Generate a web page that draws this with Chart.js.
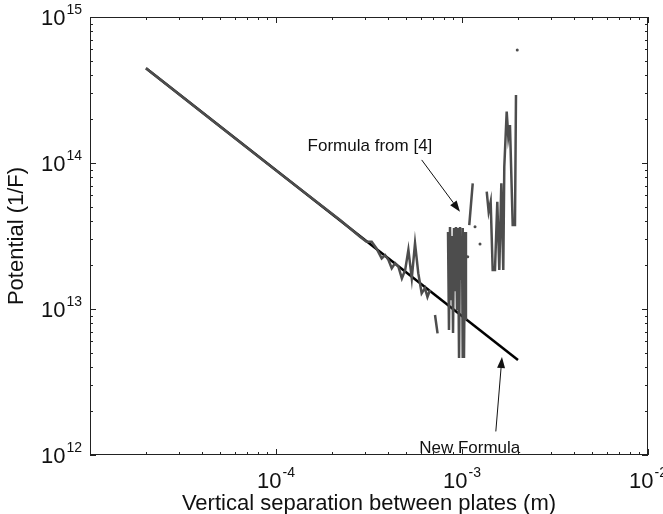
<!DOCTYPE html>
<html>
<head>
<meta charset="utf-8">
<script src="https://cdn.jsdelivr.net/npm/chart.js@4.4.0/dist/chart.umd.min.js"></script>
<style>
    html, body { margin: 0; padding: 0; background: #fff; }
    #wrap { width: 663px; height: 514px; position: relative; }
</style>
</head>
<body>
<div id="wrap"><canvas id="potentialChart"></canvas></div>
<script>
// Axis decades and their exponent labels
const xDecades = [1e-5, 1e-4, 1e-3, 1e-2];
const xTickLabels = ["", "-4", "-3", "-2"];
const yDecades = [1e12, 1e13, 1e14, 1e15];
const yTickLabels = ["12", "13", "14", "15"];

// "New Formula" (black straight line)
const newX = [2.0e-5, 2.0e-3];
const newY = [4.45e14, 4.47e12];

// "Formula from [4]" (grey, null = break in the line)
const oldX = [
    2.0e-5, 5.0e-5, 1.0e-4, 2.21e-4, 2.83e-4, 3.07e-4, 3.27e-4, 3.47e-4, 3.70e-4, 3.86e-4,
    4.02e-4, 4.19e-4, 4.37e-4, 4.55e-4, 4.75e-4, 4.95e-4, 5.15e-4, 5.37e-4, 5.59e-4, 5.82e-4,
    6.07e-4, 6.32e-4, 6.52e-4, 6.73e-4, null,
    7.16e-4, 7.39e-4, null,
    8.41e-4, 8.51e-4, 8.62e-4, 8.73e-4, 8.84e-4, 8.95e-4, 9.06e-4, 9.17e-4, 9.28e-4, 9.40e-4,
    9.52e-4, 9.64e-4, 9.76e-4, 9.88e-4, 1.0e-3, 1.006e-3, 1.012e-3, 1.025e-3, 1.038e-3, 1.05e-3, null,
    1.094e-3, 1.142e-3, null,
    1.358e-3, 1.391e-3, 1.426e-3, 1.462e-3, 1.504e-3, 1.548e-3, 1.587e-3, 1.627e-3, 1.667e-3,
    1.688e-3, 1.739e-3, 1.774e-3, 1.811e-3, 1.873e-3, 1.927e-3, 1.951e-3
];
const oldY = [
    4.45e14, 1.78e14, 8.9e13, 4.07e13, 3.13e13, 2.89e13, 2.89e13, 2.60e13, 2.22e13, 2.34e13,
    2.17e13, 1.90e13, 2.06e13, 1.95e13, 1.62e13, 1.85e13, 2.54e13, 1.62e13, 2.82e13, 1.76e13,
    1.28e13, 1.39e13, 1.21e13, 1.35e13, null,
    9.1e12, 6.81e12, null,
    3.37e13, 7.18e12, 3.64e13, 1.15e13, 3.16e13, 6.85e12, 3.59e13, 1.35e13, 3.64e13, 9.84e12,
    3.59e13, 4.62e12, 3.64e13, 1.58e13, 3.16e13, 4.62e12, 3.59e13, 4.62e12, 3.37e13, 8.41e12, null,
    3.76e13, 7.26e13, null,
    6.36e13, 4.64e13, 5.43e13, 1.85e13, 1.85e13, 5.43e13, 1.85e13, 7.26e13, 1.85e13,
    9.43e13, 2.25e14, 1.51e14, 1.82e14, 3.76e13, 3.76e13, 2.92e14
];

// stray single points of the grey curve
const dotX = [1.073e-3, 1.175e-3, 1.25e-3, 1.982e-3];
const dotY = [2.28e13, 3.66e13, 2.79e13, 5.94e14];

// text labels with arrows (data units)
const notes = [
    { text: "Formula from [4]", x: 3.2e-4, y: 1.31e14, from: [6.07e-4, 1.05e14], to: [9.75e-4, 4.64e13] },
    { text: "New Formula", x: 1.10e-3, y: 1.12e12, from: [1.52e-3, 1.45e12], to: [1.64e-3, 4.69e12] }
];

const FONT = '"Liberation Sans", Arial, Helvetica, sans-serif';

function zip(xs, ys) {
    return xs.map((v, i) => ({ x: v, y: ys[i] }));
}

function drawPower(ctx, exp, left, baseline) {
    ctx.font = "22px " + FONT;
    ctx.textAlign = "left";
    ctx.textBaseline = "alphabetic";
    ctx.fillText("10", left, baseline);
    const w = ctx.measureText("10").width;
    ctx.font = "14px " + FONT;
    ctx.fillText(exp, left + w + 1, baseline - 11);
}

function powerWidth(ctx, exp) {
    ctx.font = "22px " + FONT;
    const w1 = ctx.measureText("10").width;
    ctx.font = "14px " + FONT;
    return w1 + 1 + ctx.measureText(exp).width;
}

function arrow(ctx, x0, y0, x1, y1) {
    const ang = Math.atan2(y1 - y0, x1 - x0);
    const len = 11, half = 4;
    const bx = x1 - len * Math.cos(ang), by = y1 - len * Math.sin(ang);
    ctx.beginPath();
    ctx.moveTo(x0, y0);
    ctx.lineTo(bx, by);
    ctx.stroke();
    ctx.beginPath();
    ctx.moveTo(x1, y1);
    ctx.lineTo(bx + half * Math.sin(ang), by - half * Math.cos(ang));
    ctx.lineTo(bx - half * Math.sin(ang), by + half * Math.cos(ang));
    ctx.closePath();
    ctx.fill();
}

const axesPlugin = {
    id: "matlabAxes",
    beforeDraw(chart) {
        const ctx = chart.ctx;
        ctx.save();
        ctx.fillStyle = "#fff";
        ctx.fillRect(0, 0, chart.width, chart.height);
        ctx.restore();
    },
    afterDraw(chart) {
        const { ctx, chartArea: a, scales } = chart;
        const xs = scales.x, ys = scales.y;
        ctx.save();
        ctx.strokeStyle = "#222";
        ctx.fillStyle = "#111";
        ctx.lineWidth = 1;
        ctx.strokeRect(a.left + 0.5, a.top + 0.5, a.right - a.left - 1, a.bottom - a.top - 1);

        // ticks on all four sides, pointing inward
        ctx.beginPath();
        xDecades.forEach((d, i) => {
            for (let m = 1; m <= 9; m++) {
                if (i === xDecades.length - 1 && m > 1) break;
                const px = Math.round(xs.getPixelForValue(d * m)) + 0.5;
                const len = m === 1 ? 6 : 3;
                ctx.moveTo(px, a.bottom); ctx.lineTo(px, a.bottom - len);
                ctx.moveTo(px, a.top); ctx.lineTo(px, a.top + len);
            }
        });
        yDecades.forEach((d, i) => {
            for (let m = 1; m <= 9; m++) {
                if (i === yDecades.length - 1 && m > 1) break;
                const py = Math.round(ys.getPixelForValue(d * m)) + 0.5;
                const len = m === 1 ? 6 : 3;
                ctx.moveTo(a.left, py); ctx.lineTo(a.left + len, py);
                ctx.moveTo(a.right, py); ctx.lineTo(a.right - len, py);
            }
        });
        ctx.stroke();

        // tick labels 10^n
        xDecades.forEach((d, i) => {
            if (!xTickLabels[i]) return;
            const px = xs.getPixelForValue(d);
            const w = powerWidth(ctx, xTickLabels[i]);
            drawPower(ctx, xTickLabels[i], px - w / 2, a.bottom + 33);
        });
        yDecades.forEach((d, i) => {
            const py = ys.getPixelForValue(d);
            const w = powerWidth(ctx, yTickLabels[i]);
            drawPower(ctx, yTickLabels[i], a.left - 8 - w, py + 8);
        });

        // axis titles
        ctx.font = "22px " + FONT;
        ctx.textAlign = "center";
        ctx.textBaseline = "alphabetic";
        ctx.fillText("Vertical separation between plates (m)", (a.left + a.right) / 2, 510);
        ctx.save();
        ctx.translate(23, (a.top + a.bottom) / 2);
        ctx.rotate(-Math.PI / 2);
        ctx.fillText("Potential (1/F)", 0, 0);
        ctx.restore();

        // annotations
        ctx.fillStyle = "#111";
        ctx.strokeStyle = "#111";
        notes.forEach((n) => {
            ctx.font = "17px " + FONT;
            ctx.textAlign = "center";
            ctx.textBaseline = "middle";
            ctx.fillText(n.text, xs.getPixelForValue(n.x), ys.getPixelForValue(n.y));
            arrow(ctx,
                xs.getPixelForValue(n.from[0]), ys.getPixelForValue(n.from[1]),
                xs.getPixelForValue(n.to[0]), ys.getPixelForValue(n.to[1]));
        });
        ctx.restore();
    }
};

new Chart(document.getElementById("potentialChart"), {
    type: "line",
    data: {
        datasets: [
            {
                label: "Formula from [4]",
                data: zip(oldX, oldY),
                borderColor: "#4d4d4d",
                borderWidth: 2.5,
                pointRadius: 0,
                spanGaps: false,
                tension: 0,
                order: 0
            },
            {
                label: "Formula from [4] points",
                data: zip(dotX, dotY),
                showLine: false,
                pointRadius: 1.5,
                pointBorderWidth: 0,
                pointBackgroundColor: "#4d4d4d",
                order: 0
            },
            {
                label: "New Formula",
                data: zip(newX, newY),
                borderColor: "#000",
                borderWidth: 2.5,
                pointRadius: 0,
                tension: 0,
                order: 1
            }
        ]
    },
    options: {
        responsive: true,
        maintainAspectRatio: false,
        animation: false,
        layout: { padding: { left: 90, top: 17, right: 15, bottom: 59 } },
        plugins: {
            legend: { display: false },
            tooltip: { enabled: false }
        },
        scales: {
            x: { type: "logarithmic", min: 1e-5, max: 1e-2, display: false },
            y: { type: "logarithmic", min: 1e12, max: 1e15, display: false }
        }
    },
    plugins: [axesPlugin]
});
</script>
</body>
</html>
